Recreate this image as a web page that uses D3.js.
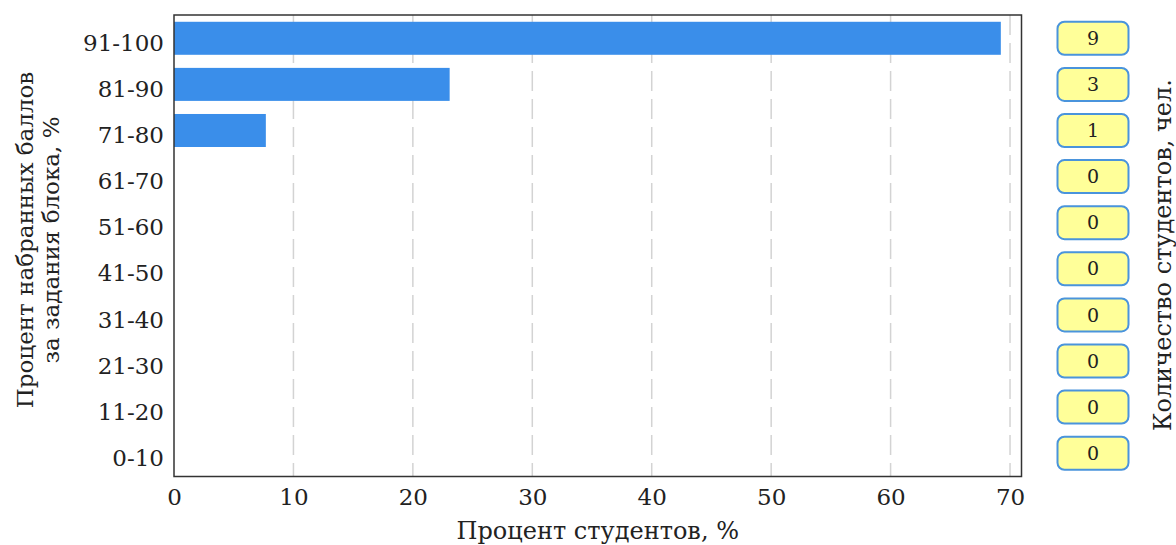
<!DOCTYPE html>
<html>
<head>
<meta charset="utf-8">
<script src="https://cdn.jsdelivr.net/npm/d3@7"></script>
<style>
  body { margin: 0; background: #fff; }
  text { font-family: "DejaVu Serif", serif; fill: #222; }
  .axis path, .axis line { display: none; }
</style>
</head>
<body>
<script>
//Width and height
var w = 1176;
var h = 545;

//Data: score ranges, percent of students, number of students
var categories = ["91-100", "81-90", "71-80", "61-70", "51-60", "41-50", "31-40", "21-30", "11-20", "0-10"];
var percents = [69.23, 23.08, 7.69, 0, 0, 0, 0, 0, 0, 0];
var counts = [9, 3, 1, 0, 0, 0, 0, 0, 0, 0];
var xTicks = [0, 10, 20, 30, 40, 50, 60, 70];

var dataset = categories.map(function (c, i) {
  return { cat: c, pct: percents[i], n: counts[i] };
});

//Plot area
var plotLeft = 174, plotRight = 1021.5, plotTop = 15, plotBottom = 476.5;

var svg = d3.select("body").append("svg").attr("width", w).attr("height", h);

//Scales
var xScale = d3.scaleLinear()
  .domain([0, d3.max(percents) * 1.025])
  .range([plotLeft, plotRight]);

var yScale = d3.scaleBand()
  .domain(categories)
  .range([plotTop, plotBottom])
  .paddingInner(0.284)
  .paddingOuter(0.147);

//Dashed grid lines
svg.append("g")
  .selectAll("line")
  .data(xTicks.slice(1))
  .enter()
  .append("line")
  .attr("x1", function (d) { return xScale(d); })
  .attr("x2", function (d) { return xScale(d); })
  .attr("y1", plotTop)
  .attr("y2", plotBottom)
  .attr("stroke", "#d3d3d3")
  .attr("stroke-width", 1.5)
  .attr("stroke-dasharray", "20,8");

//Bars
svg.append("g")
  .selectAll("rect")
  .data(dataset)
  .enter()
  .append("rect")
  .attr("x", xScale(0))
  .attr("y", function (d) { return yScale(d.cat); })
  .attr("width", function (d) { return xScale(d.pct) - xScale(0); })
  .attr("height", yScale.bandwidth())
  .attr("fill", "#3a8eea");

//Frame
svg.append("rect")
  .attr("x", plotLeft)
  .attr("y", plotTop)
  .attr("width", plotRight - plotLeft)
  .attr("height", plotBottom - plotTop)
  .attr("fill", "none")
  .attr("stroke", "#333")
  .attr("stroke-width", 1.5);

//Axes
var xAxis = d3.axisBottom(xScale).tickValues(xTicks).tickSize(0).tickPadding(12).tickFormat(d3.format("d"));
svg.append("g")
  .attr("class", "axis")
  .attr("transform", "translate(0," + plotBottom + ")")
  .call(xAxis)
  .selectAll("text")
  .attr("font-family", "DejaVu Serif")
  .attr("font-size", 23)
  .attr("fill", "#222");

var yAxis = d3.axisLeft(yScale).tickSize(0).tickPadding(10);
svg.append("g")
  .attr("class", "axis")
  .attr("transform", "translate(" + plotLeft + ",0)")
  .call(yAxis)
  .selectAll("text")
  .attr("font-family", "DejaVu Serif")
  .attr("font-size", 23)
  .attr("fill", "#222")
  .attr("dy", "0.55em");

//Count badges
var badges = svg.append("g")
  .selectAll("g")
  .data(dataset)
  .enter()
  .append("g")
  .attr("transform", function (d) { return "translate(1093," + (yScale(d.cat) + yScale.bandwidth() / 2) + ")"; });

badges.append("rect")
  .attr("x", -35.5)
  .attr("y", -yScale.bandwidth() / 2)
  .attr("width", 71)
  .attr("height", yScale.bandwidth())
  .attr("rx", 7)
  .attr("fill", "#ffff99")
  .attr("stroke", "#4a94dc")
  .attr("stroke-width", 2);

badges.append("text")
  .attr("text-anchor", "middle")
  .attr("dy", "0.35em")
  .attr("font-size", 19)
  .text(function (d) { return d.n; });

//Axis titles
svg.append("text")
  .attr("x", (plotLeft + plotRight) / 2)
  .attr("y", 539)
  .attr("text-anchor", "middle")
  .attr("font-size", 24)
  .text("Процент студентов, %");

var yTitle = svg.append("text")
  .attr("transform", "translate(0,240) rotate(-90)")
  .attr("text-anchor", "middle")
  .attr("font-size", 23);
yTitle.append("tspan").attr("x", 0).attr("y", 33).text("Процент набранных баллов");
yTitle.append("tspan").attr("x", 0).attr("y", 59).text("за задания блока, %");

svg.append("text")
  .attr("transform", "translate(1171,255) rotate(-90)")
  .attr("text-anchor", "middle")
  .attr("font-size", 24)
  .text("Количество студентов, чел.");
</script>
</body>
</html>
